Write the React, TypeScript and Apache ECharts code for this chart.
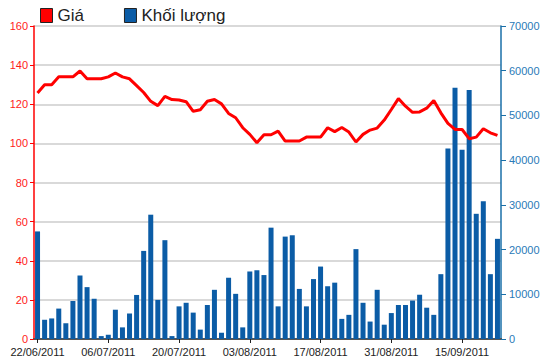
import React, { useEffect, useRef } from "react";
import * as echarts from "echarts";

const dates = [
  "22/06/2011", "23/06/2011", "24/06/2011", "27/06/2011", "28/06/2011", "29/06/2011", "30/06/2011",
  "01/07/2011", "04/07/2011", "05/07/2011", "06/07/2011", "07/07/2011", "08/07/2011", "11/07/2011",
  "12/07/2011", "13/07/2011", "14/07/2011", "15/07/2011", "18/07/2011", "19/07/2011", "20/07/2011",
  "21/07/2011", "22/07/2011", "25/07/2011", "26/07/2011", "27/07/2011", "28/07/2011", "29/07/2011",
  "01/08/2011", "02/08/2011", "03/08/2011", "04/08/2011", "05/08/2011", "08/08/2011", "09/08/2011",
  "10/08/2011", "11/08/2011", "12/08/2011", "15/08/2011", "16/08/2011", "17/08/2011", "18/08/2011",
  "19/08/2011", "22/08/2011", "23/08/2011", "24/08/2011", "25/08/2011", "26/08/2011", "29/08/2011",
  "30/08/2011", "31/08/2011", "01/09/2011", "05/09/2011", "06/09/2011", "07/09/2011", "08/09/2011",
  "09/09/2011", "12/09/2011", "13/09/2011", "14/09/2011", "15/09/2011", "16/09/2011", "19/09/2011",
  "20/09/2011", "21/09/2011", "22/09/2011",
];

const shownDates = ["22/06/2011", "06/07/2011", "20/07/2011", "03/08/2011", "17/08/2011", "31/08/2011", "15/09/2011"];

const price = [
  125.8, 130, 130, 134, 134, 134, 137, 133, 133, 133,
  134, 136, 134, 133, 129.5, 126, 121.5, 119.3, 124, 122.4,
  122.2, 121.3, 116.4, 117.2, 121.5, 122.4, 120.2, 115.3, 113.1, 108,
  104.6, 100.3, 104.4, 104.4, 106.3, 101.2, 101.2, 101.2, 103.2, 103.2,
  103.2, 108, 106, 108.1, 105.8, 100.7, 104.6, 106.8, 107.8, 111.9,
  117.3, 122.9, 119, 115.9, 116.1, 118, 121.9, 115.6, 110.2, 107.1,
  107.1, 102.4, 103.2, 107.5, 105.4, 104.1,
];

const volume = [
  24060, 4300, 4600, 6800, 3500, 8500, 14200, 11600, 9000, 650,
  950, 6550, 2600, 5700, 9850, 19700, 27800, 8750, 22100, 650,
  7300, 8100, 5900, 2100, 7600, 11000, 1400, 13700, 10100, 2600,
  15100, 15400, 14300, 24900, 7300, 22900, 23200, 11200, 7300, 13400,
  16200, 11800, 12600, 4500, 5400, 20100, 8100, 3900, 11000, 3200,
  5800, 7600, 7600, 8600, 9900, 7000, 5400, 14500, 42600, 56200,
  42300, 55700, 28000, 30800, 14500, 22400,
];

const FONT = "'Liberation Sans', Arial, sans-serif";

export default function App() {
  const ref = useRef<HTMLDivElement>(null);
  useEffect(() => {
    if (!ref.current) return;
    const chart = echarts.init(ref.current, undefined, { renderer: "svg" });
    const showLabel = (_i: number, v: string) => shownDates.includes(v);
    chart.setOption({
      animation: false,
      backgroundColor: "#ffffff",
      textStyle: { fontFamily: FONT },
      legend: {
        data: ["Giá", "Khối lượng"],
        left: 40,
        top: 7,
        padding: 0,
        icon: "rect",
        itemWidth: 12,
        itemHeight: 14,
        itemGap: 40,
        itemStyle: { borderColor: "#222", borderWidth: 1 },
        textStyle: { fontSize: 17, color: "#222", fontFamily: FONT },
      },
      grid: { left: 34, right: 49, top: 26, bottom: 25, containLabel: false },
      xAxis: [
        {
          type: "category",
          data: dates,
          boundaryGap: true,
          axisLine: { lineStyle: { color: "#222", width: 1.5 } },
          axisTick: { show: true, interval: showLabel, alignWithLabel: true, length: 4, lineStyle: { color: "#222" } },
          axisLabel: { interval: showLabel, color: "#222", fontSize: 11, margin: 7, fontFamily: FONT },
          splitLine: { show: false },
        },
        {
          type: "category",
          data: dates,
          position: "top",
          boundaryGap: true,
          axisLine: { lineStyle: { color: "#555", width: 2 } },
          axisTick: { show: false },
          axisLabel: { show: false },
          splitLine: { show: false },
        },
      ],
      yAxis: [
        {
          type: "value",
          min: 0,
          max: 160,
          interval: 20,
          position: "left",
          axisLine: { show: true, lineStyle: { color: "#ff0000", width: 1.5 } },
          axisTick: { show: true, length: 4, lineStyle: { color: "#ff0000" } },
          axisLabel: { color: "#ff1a1a", fontSize: 11, margin: 6, fontFamily: FONT },
          splitLine: { show: true, lineStyle: { color: "#cccccc", width: 1.5 } },
        },
        {
          type: "value",
          min: 0,
          max: 70000,
          interval: 10000,
          position: "right",
          axisLine: { show: true, lineStyle: { color: "#1a6fa8", width: 1.5 } },
          axisTick: { show: true, length: 5, lineStyle: { color: "#1a6fa8" } },
          axisLabel: {
            color: "#2a7ab8",
            fontSize: 11,
            margin: 8,
            fontFamily: FONT,
            formatter: (v: number) => String(v),
          },
          splitLine: { show: false },
        },
      ],
      series: [
        {
          name: "Khối lượng",
          type: "bar",
          xAxisIndex: 0,
          yAxisIndex: 1,
          data: volume,
          barWidth: 5,
          itemStyle: { color: "#0b5ca6" },
          z: 2,
        },
        {
          name: "Giá",
          type: "line",
          xAxisIndex: 0,
          yAxisIndex: 0,
          data: price,
          showSymbol: false,
          symbol: "none",
          lineStyle: { color: "#ff0000", width: 3 },
          itemStyle: { color: "#ff0000" },
          z: 3,
        },
      ],
    });
    return () => chart.dispose();
  }, []);
  return <div ref={ref} style={{ position: "fixed", left: 0, top: 0, width: 550, height: 364 }} />;
}
